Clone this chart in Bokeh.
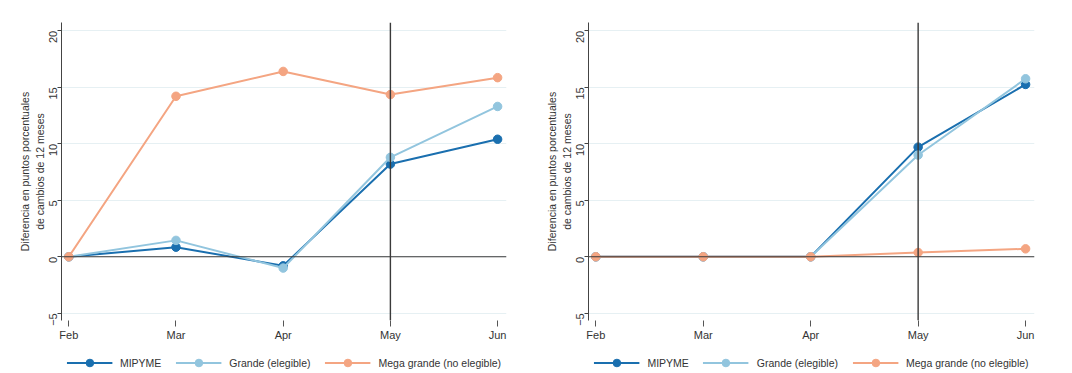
import math
from bokeh.plotting import figure
from bokeh.layouts import row, column
from bokeh.models import Span, Legend, LegendItem, FixedTicker, Range1d, Title
from bokeh.embed import file_html
from bokeh.resources import INLINE

months = ["Feb", "Mar", "Apr", "May", "Jun"]
x = [0, 1, 2, 3, 4]
left_mipyme = [0, 0.85, -0.8, 8.2, 10.4]
left_grande = [0, 1.45, -1.0, 8.8, 13.3]
left_mega = [0, 14.2, 16.4, 14.35, 15.85]
right_mipyme = [0, 0, 0, 9.7, 15.25]
right_grande = [0, 0, 0, 9.0, 15.75]
right_mega = [0, 0, 0, 0.38, 0.7]
series_names = ["MIPYME", "Grande (elegible)", "Mega grande (no elegible)"]
colors = ["#1a6faf", "#92c5de", "#f4a582"]
y_ticks = [-5, 0, 5, 10, 15, 20]
ylabel_lines = ["Diferencia en puntos porcentuales", "de cambios de 12 meses"]
FONT = "Liberation Sans"
TXT = "#333333"


def make_panel(data, width, border_left):
    p = figure(width=width, height=343, output_backend="svg", toolbar_location=None,
               x_range=Range1d(-0.068, 4.083), y_range=Range1d(-5.64, 20.73),
               min_border_left=border_left, min_border_right=29, min_border_top=22,
               min_border_bottom=22)
    p.outline_line_color = None
    p.xgrid.grid_line_color = None
    p.ygrid.grid_line_color = "#e6f0f3"
    p.ygrid.grid_line_width = 1
    p.ygrid.ticker = FixedTicker(ticks=y_ticks)

    p.yaxis.ticker = FixedTicker(ticks=y_ticks)
    p.yaxis.major_label_orientation = math.pi / 2
    p.yaxis.minor_tick_line_color = None
    p.yaxis.major_tick_in = 0
    p.yaxis.major_tick_out = 4
    p.yaxis.axis_line_color = "#444444"
    p.yaxis.major_tick_line_color = "#444444"
    p.yaxis.major_label_text_font = FONT
    p.yaxis.major_label_text_font_size = "11px"
    p.yaxis.major_label_text_color = TXT
    p.yaxis.major_label_standoff = 4
    p.yaxis.axis_label = ylabel_lines[1]
    p.yaxis.axis_label_text_font = FONT
    p.yaxis.axis_label_text_font_size = "10.5px"
    p.yaxis.axis_label_text_font_style = "normal"
    p.yaxis.axis_label_text_color = TXT
    p.yaxis.axis_label_standoff = -3

    p.xaxis.ticker = FixedTicker(ticks=x)
    p.xaxis.major_label_overrides = {i: m for i, m in zip(x, months)}
    p.xaxis.axis_line_color = None
    p.xaxis.minor_tick_line_color = None
    p.xaxis.major_tick_in = 0
    p.xaxis.major_tick_out = 6
    p.xaxis.major_tick_line_color = "#555555"
    p.xaxis.major_label_text_font = FONT
    p.xaxis.major_label_text_font_size = "11px"
    p.xaxis.major_label_text_color = TXT
    p.xaxis.major_label_standoff = 2

    p.add_layout(Title(text=ylabel_lines[0], align="center", text_font=FONT,
                       text_font_size="10.5px", text_font_style="normal",
                       text_color=TXT, standoff=0, offset=0), "left")

    p.add_layout(Span(location=0, dimension="width", line_color="#3a3a3a", line_width=1.2))
    p.add_layout(Span(location=3, dimension="height", line_color="#3a3a3a", line_width=1.4))

    for vals, c in zip(data, colors):
        p.line(x, vals, line_color=c, line_width=2)
        p.scatter(x, vals, size=8.5, fill_color=c, line_color=c)
    return p


def make_legend(width, border_left):
    q = figure(width=width, height=30, output_backend="svg", toolbar_location=None,
               x_axis_type=None, y_axis_type=None,
               x_range=Range1d(0, 1), y_range=Range1d(0, 1),
               min_border_left=border_left, min_border_right=29, min_border_top=0,
               min_border_bottom=0)
    q.outline_line_color = None
    q.grid.visible = False
    items = []
    for name, c in zip(series_names, colors):
        l = q.line(x=[-5, -4], y=[-5, -5], line_color=c, line_width=2)
        s = q.scatter(x=[-5], y=[-5], size=8, fill_color=c, line_color=c)
        items.append(LegendItem(label=name, renderers=[l, s]))
    leg = Legend(items=items, orientation="horizontal", location="bottom_center",
                 border_line_color=None, background_fill_alpha=0,
                 label_text_font=FONT, label_text_font_size="10.5px",
                 label_text_color=TXT, glyph_width=46, glyph_height=19,
                 label_standoff=8, spacing=14, padding=0, margin=1,
                 label_height=12)
    q.add_layout(leg)
    return q


p1 = make_panel([left_mipyme, left_grande, left_mega], 535, 61)
p2 = make_panel([right_mipyme, right_grande, right_mega], 528, 53)
l1 = make_legend(535, 61)
l2 = make_legend(528, 53)
layout = row(column(p1, l1, spacing=0), column(p2, l2, spacing=0), spacing=0)
open("out.html", "w").write(file_html(layout, INLINE))
